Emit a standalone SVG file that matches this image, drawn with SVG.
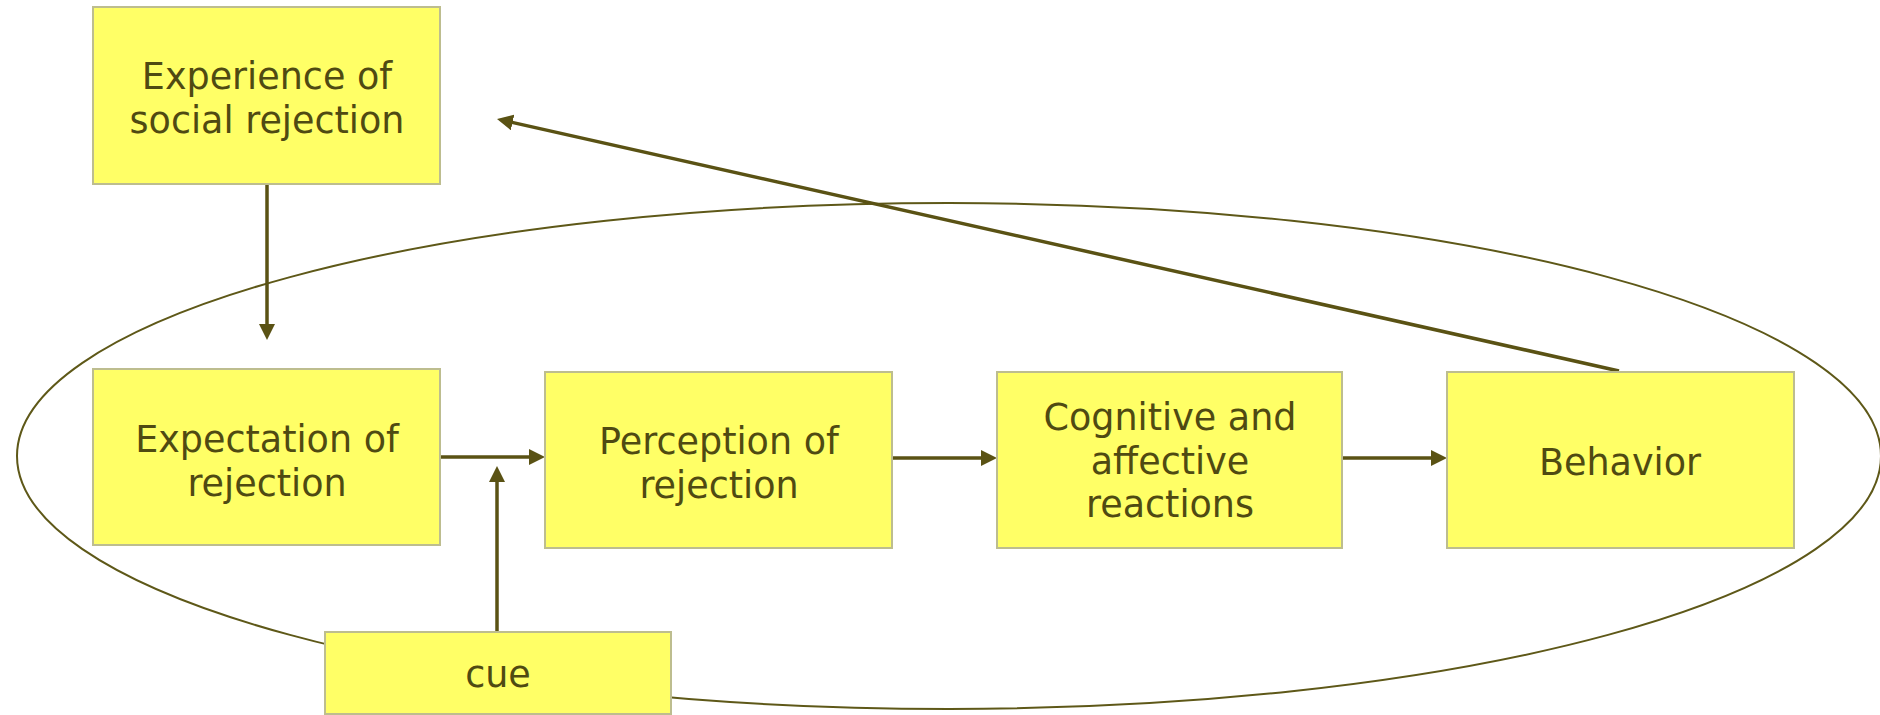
<svg xmlns="http://www.w3.org/2000/svg" width="1880" height="715" viewBox="0 0 1880 715">
  <style>
    .box { fill: #FFFF66; stroke: #BDBD8F; stroke-width: 2; }
    .lbl { font-family: "DejaVu Sans", Verdana, sans-serif; font-size: 36.5px; fill: #4F4A12; text-anchor: middle; }
    .conn { stroke: #5A5214; stroke-width: 3.5; fill: none; }
    .loop { stroke: #5E5818; stroke-width: 2; fill: none; }
  </style>
  <defs>
    <marker id="arr" markerUnits="userSpaceOnUse" markerWidth="16" markerHeight="16" viewBox="0 0 16 16" refX="4" refY="8" orient="auto">
      <path d="M0,0 L16,8 L0,16 z" fill="#5A5214"/>
    </marker>
  </defs>
  <rect width="1880" height="715" fill="#FFFFFF"/>

  <g id="loop">
    <ellipse class="loop" cx="949" cy="456" rx="932" ry="253"/>
  </g>

  <g id="connectors">
    <line class="conn" x1="267" y1="184" x2="267" y2="328" marker-end="url(#arr)"/>
    <line class="conn" x1="440" y1="457" x2="533" y2="457" marker-end="url(#arr)"/>
    <line class="conn" x1="892" y1="458" x2="985" y2="458" marker-end="url(#arr)"/>
    <line class="conn" x1="1342" y1="458" x2="1435" y2="458" marker-end="url(#arr)"/>
    <line class="conn" x1="497" y1="632" x2="497" y2="478" marker-end="url(#arr)"/>
    <line class="conn" x1="1619" y1="371" x2="508.7" y2="121.6" marker-end="url(#arr)"/>
  </g>

  <g id="experience">
    <rect class="box" x="93" y="7" width="347" height="177"/>
    <text class="lbl" x="267" y="89">Experience of</text>
    <text class="lbl" x="267" y="133">social rejection</text>
  </g>

  <g id="expectation">
    <rect class="box" x="93" y="369" width="347" height="176"/>
    <text class="lbl" x="267" y="452">Expectation of</text>
    <text class="lbl" x="267" y="496">rejection</text>
  </g>

  <g id="perception">
    <rect class="box" x="545" y="372" width="347" height="176"/>
    <text class="lbl" x="719" y="454">Perception of</text>
    <text class="lbl" x="719" y="498">rejection</text>
  </g>

  <g id="reactions">
    <rect class="box" x="997" y="372" width="345" height="176"/>
    <text class="lbl" x="1170" y="430">Cognitive and</text>
    <text class="lbl" x="1170" y="474">affective</text>
    <text class="lbl" x="1170" y="517">reactions</text>
  </g>

  <g id="behavior">
    <rect class="box" x="1447" y="372" width="347" height="176"/>
    <text class="lbl" x="1620" y="475">Behavior</text>
  </g>

  <g id="cue">
    <rect class="box" x="325" y="632" width="346" height="82"/>
    <text class="lbl" x="498" y="687">cue</text>
  </g>
</svg>
